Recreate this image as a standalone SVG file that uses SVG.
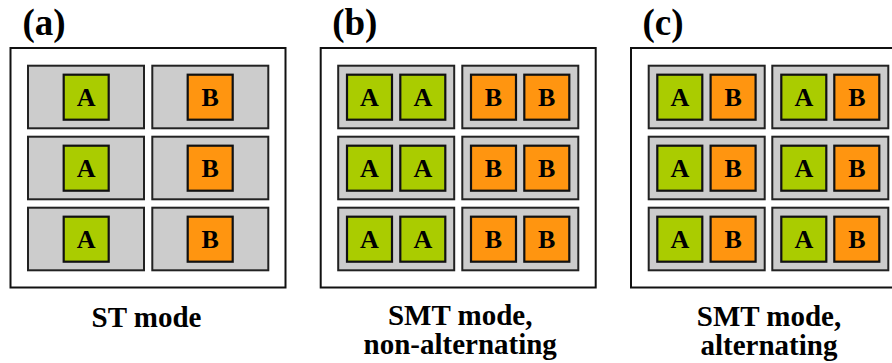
<svg xmlns="http://www.w3.org/2000/svg" width="892" height="363" viewBox="0 0 892 363">
<style>
.frame{fill:#fff;stroke:#111;stroke-width:2}
.cell{fill:#cccccc;stroke:#222;stroke-width:2}
.ga{fill:#aacc00;stroke:#111;stroke-width:2.2}
.ob{fill:#ff9510;stroke:#111;stroke-width:2.2}
text{font-family:"Liberation Serif","Times New Roman",serif;font-weight:bold;fill:#000}
.lt{font-size:26px;text-anchor:middle}
.title{font-size:37px}
.cap{font-size:29px;text-anchor:middle}
</style>
<rect width="892" height="363" fill="#fff"/>

<!-- Panel (a) -->
<g id="panel-a" transform="translate(10.5,0)">
  <text class="title" x="12" y="35">(a)</text>
  <rect class="frame" x="0" y="48" width="275" height="239.5"/>
  <g id="a-r1-l"><rect class="cell" x="17.5" y="65.7" width="116" height="62.6"/><rect class="ga" x="53.2" y="74.7" width="45" height="45"/><text class="lt" x="75.7" y="106">A</text></g>
  <g id="a-r1-r"><rect class="cell" x="141.8" y="65.7" width="116" height="62.6"/><rect class="ob" x="177.2" y="74.7" width="45" height="45"/><text class="lt" x="199.7" y="106">B</text></g>
  <g id="a-r2-l"><rect class="cell" x="17.5" y="136.7" width="116" height="62.6"/><rect class="ga" x="53.2" y="145.7" width="45" height="45"/><text class="lt" x="75.7" y="177">A</text></g>
  <g id="a-r2-r"><rect class="cell" x="141.8" y="136.7" width="116" height="62.6"/><rect class="ob" x="177.2" y="145.7" width="45" height="45"/><text class="lt" x="199.7" y="177">B</text></g>
  <g id="a-r3-l"><rect class="cell" x="17.5" y="207.7" width="116" height="62.6"/><rect class="ga" x="53.2" y="216.7" width="45" height="45"/><text class="lt" x="75.7" y="248">A</text></g>
  <g id="a-r3-r"><rect class="cell" x="141.8" y="207.7" width="116" height="62.6"/><rect class="ob" x="177.2" y="216.7" width="45" height="45"/><text class="lt" x="199.7" y="248">B</text></g>
  <text class="cap" x="136" y="327">ST mode</text>
</g>

<!-- Panel (b) -->
<g id="panel-b" transform="translate(320.7,0)">
  <text class="title" x="11.5" y="35">(b)</text>
  <rect class="frame" x="0" y="48" width="275" height="239.5"/>
  <g id="b-r1-l"><rect class="cell" x="17.5" y="65.7" width="116" height="62.6"/><rect class="ga" x="26.3" y="74.7" width="45" height="45"/><text class="lt" x="48.8" y="106">A</text><rect class="ga" x="79.6" y="74.7" width="45" height="45"/><text class="lt" x="102.1" y="106">A</text></g>
  <g id="b-r1-r"><rect class="cell" x="141.6" y="65.7" width="116" height="62.6"/><rect class="ob" x="150.3" y="74.7" width="45" height="45"/><text class="lt" x="172.8" y="106">B</text><rect class="ob" x="203.6" y="74.7" width="45" height="45"/><text class="lt" x="226.1" y="106">B</text></g>
  <g id="b-r2-l"><rect class="cell" x="17.5" y="136.7" width="116" height="62.6"/><rect class="ga" x="26.3" y="145.7" width="45" height="45"/><text class="lt" x="48.8" y="177">A</text><rect class="ga" x="79.6" y="145.7" width="45" height="45"/><text class="lt" x="102.1" y="177">A</text></g>
  <g id="b-r2-r"><rect class="cell" x="141.6" y="136.7" width="116" height="62.6"/><rect class="ob" x="150.3" y="145.7" width="45" height="45"/><text class="lt" x="172.8" y="177">B</text><rect class="ob" x="203.6" y="145.7" width="45" height="45"/><text class="lt" x="226.1" y="177">B</text></g>
  <g id="b-r3-l"><rect class="cell" x="17.5" y="207.7" width="116" height="62.6"/><rect class="ga" x="26.3" y="216.7" width="45" height="45"/><text class="lt" x="48.8" y="248">A</text><rect class="ga" x="79.6" y="216.7" width="45" height="45"/><text class="lt" x="102.1" y="248">A</text></g>
  <g id="b-r3-r"><rect class="cell" x="141.6" y="207.7" width="116" height="62.6"/><rect class="ob" x="150.3" y="216.7" width="45" height="45"/><text class="lt" x="172.8" y="248">B</text><rect class="ob" x="203.6" y="216.7" width="45" height="45"/><text class="lt" x="226.1" y="248">B</text></g>
  <text class="cap" x="139.5" y="325">SMT mode,</text>
  <text class="cap" x="139.5" y="354">non-alternating</text>
</g>

<!-- Panel (c) -->
<g id="panel-c" transform="translate(631,0)">
  <text class="title" x="11.5" y="35">(c)</text>
  <rect class="frame" x="0" y="48" width="275" height="239.5"/>
  <g id="c-r1-l"><rect class="cell" x="17.7" y="65.7" width="116" height="62.6"/><rect class="ga" x="26.3" y="74.7" width="45" height="45"/><text class="lt" x="48.8" y="106">A</text><rect class="ob" x="79.6" y="74.7" width="45" height="45"/><text class="lt" x="102.1" y="106">B</text></g>
  <g id="c-r1-r"><rect class="cell" x="141.3" y="65.7" width="116" height="62.6"/><rect class="ga" x="150.3" y="74.7" width="45" height="45"/><text class="lt" x="172.8" y="106">A</text><rect class="ob" x="203.3" y="74.7" width="45" height="45"/><text class="lt" x="225.8" y="106">B</text></g>
  <g id="c-r2-l"><rect class="cell" x="17.7" y="136.7" width="116" height="62.6"/><rect class="ga" x="26.3" y="145.7" width="45" height="45"/><text class="lt" x="48.8" y="177">A</text><rect class="ob" x="79.6" y="145.7" width="45" height="45"/><text class="lt" x="102.1" y="177">B</text></g>
  <g id="c-r2-r"><rect class="cell" x="141.3" y="136.7" width="116" height="62.6"/><rect class="ga" x="150.3" y="145.7" width="45" height="45"/><text class="lt" x="172.8" y="177">A</text><rect class="ob" x="203.3" y="145.7" width="45" height="45"/><text class="lt" x="225.8" y="177">B</text></g>
  <g id="c-r3-l"><rect class="cell" x="17.7" y="207.7" width="116" height="62.6"/><rect class="ga" x="26.3" y="216.7" width="45" height="45"/><text class="lt" x="48.8" y="248">A</text><rect class="ob" x="79.6" y="216.7" width="45" height="45"/><text class="lt" x="102.1" y="248">B</text></g>
  <g id="c-r3-r"><rect class="cell" x="141.3" y="207.7" width="116" height="62.6"/><rect class="ga" x="150.3" y="216.7" width="45" height="45"/><text class="lt" x="172.8" y="248">A</text><rect class="ob" x="203.3" y="216.7" width="45" height="45"/><text class="lt" x="225.8" y="248">B</text></g>
  <text class="cap" x="138" y="326">SMT mode,</text>
  <text class="cap" x="138" y="355">alternating</text>
</g>
</svg>
